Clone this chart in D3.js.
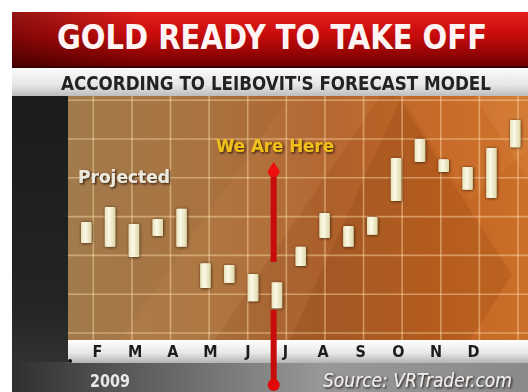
<!DOCTYPE html>
<html><head><meta charset="utf-8">
<script src="https://cdn.jsdelivr.net/npm/d3@7"></script>
<style>html,body{margin:0;padding:0;background:#fff;overflow:hidden}</style>
</head><body>
<svg id="c" width="528" height="392"></svg>
<script>
// ---- data ----
const title = "GOLD READY TO TAKE OFF";
const subtitle = "ACCORDING TO LEIBOVIT'S FORECAST MODEL";
const months = ["F","M","A","M","J","J","A","S","O","N","D"];
const periods = [1,2,3,4,5,6,7,8,9,10,11,12,13,14,15,16,17,18,19];
const barHigh = [28.6,32.5,28.1,29.4,32.0,18.0,17.5,15.2,13.1,22.2,30.9,27.6,29.9,45.1,50.0,44.8,42.8,47.7,54.9];
const barLow  = [23.2,22.2,19.6,25.0,22.2,11.6,12.9,8.2,6.4,17.3,24.5,22.2,25.3,34.0,44.1,41.5,36.9,34.8,47.9];
const currentPeriod = 9;
const yearLabel = "2009";
const sourceLabel = "Source: VRTrader.com";

const svg = d3.select("#c");
const defs = svg.append("defs");

function lg(id, x1,y1,x2,y2, stops){
  const g = defs.append("linearGradient").attr("id",id)
    .attr("x1",x1).attr("y1",y1).attr("x2",x2).attr("y2",y2);
  stops.forEach(s=>g.append("stop").attr("offset",s[0]).attr("stop-color",s[1]).attr("stop-opacity", s[2]==null?1:s[2]));
}
lg("red","0","0","0","1",[[0,"#e2201c"],[0.45,"#c40a0a"],[1,"#6e0000"]]);
lg("redH","0","0","1","0",[[0,"#000",0.35],[0.25,"#000",0],[1,"#000",0]]);
lg("sub","0","0","0","1",[[0,"#fbfbfb"],[0.6,"#e6e6e6"],[1,"#bdbdbd"]]);
lg("dark","0","0","0","1",[[0,"#1a1c1a"],[0.7,"#232523"],[1,"#363736"]]);
lg("orange","0","0","1","0",[[0,"#a27a4c"],[0.3,"#a9733f"],[0.55,"#b0632d"],[0.8,"#c66826"],[1,"#d2732a"]]);
lg("axisbar","0","0","0","1",[[0,"#ffffff"],[0.55,"#e8e8e8"],[1,"#b4b4b4"]]);
lg("bottom","0","0","1","0",[[0,"#2e2f2e"],[0.2,"#555"],[0.6,"#989898"],[1,"#8a8a8a"]]);
lg("candle","0","0","1","0",[[0,"#e8e2bc"],[0.4,"#fbf9e8"],[1,"#ded6a8"]]);

const sh = defs.append("filter").attr("id","shadow").attr("x","-50%").attr("y","-50%").attr("width","200%").attr("height","200%");
sh.append("feDropShadow").attr("dx",0.5).attr("dy",0.5).attr("stdDeviation",1.4).attr("flood-color","#2a1200").attr("flood-opacity",0.85);
const tsh = defs.append("filter").attr("id","tshadow").attr("x","-20%").attr("y","-40%").attr("width","140%").attr("height","180%");
tsh.append("feDropShadow").attr("dx",1.2).attr("dy",1.2).attr("stdDeviation",0.8).attr("flood-color","#1a0a00").attr("flood-opacity",0.9);
const soft = defs.append("filter").attr("id","soft");
soft.append("feGaussianBlur").attr("stdDeviation",0.4);

// ---- frame ----
svg.append("rect").attr("x",12).attr("y",12).attr("width",516).attr("height",55).attr("fill","url(#red)");
svg.append("rect").attr("x",12).attr("y",12).attr("width",516).attr("height",55).attr("fill","url(#redH)");
svg.append("rect").attr("x",12).attr("y",66).attr("width",516).attr("height",2).attr("fill","#3a0000");
svg.append("rect").attr("x",12).attr("y",68).attr("width",516).attr("height",28).attr("fill","url(#sub)");
svg.append("rect").attr("x",12).attr("y",96).attr("width",56).attr("height",296).attr("fill","url(#dark)");
svg.append("rect").attr("x",12).attr("y",362).attr("width",516).attr("height",30).attr("fill","url(#bottom)");

// chart area
const X0 = 68, X1 = 528, Y0 = 96, Y1 = 340;
defs.append("clipPath").attr("id","clip").append("rect").attr("x",X0).attr("y",Y0).attr("width",X1-X0).attr("height",Y1-Y0);
const chart = svg.append("g").attr("clip-path","url(#clip)");
chart.append("rect").attr("x",X0).attr("y",Y0).attr("width",X1-X0).attr("height",Y1-Y0).attr("fill","url(#orange)");
// decorative diagonal shapes
chart.append("path").attr("d","M120,340 L290,96 L380,96 L215,340 Z").attr("fill","#e0a060").attr("opacity",0.10);
chart.append("path").attr("d","M215,340 L380,96 L528,96 L528,340 Z").attr("fill","#7a3a10").attr("opacity",0.06);
chart.append("path").attr("d","M290,340 L400,100 L512,275 L470,340 Z").attr("fill","#6a2a00").attr("opacity",0.14);
chart.append("path").attr("d","M400,96 L528,96 L528,150 L470,200 Z").attr("fill","#f0a050").attr("opacity",0.12);
chart.append("path").attr("d","M475,96 L528,96 L528,180 Z").attr("fill","#f8b870").attr("opacity",0.12);

// scales
const y = d3.scaleLinear().domain([0,60]).range([333,100.2]);
const gridX = d3.scaleLinear().domain([0,11]).range([93.3,518]);
const x = d3.scaleLinear().domain([1,19]).range([86,515]);
const mx = d3.scaleLinear().domain([0,10]).range([97,473]);

// grid
chart.append("g").selectAll("line").data(y.ticks(6)).join("line")
  .attr("x1",X0).attr("x2",X1).attr("y1",d=>y(d)).attr("y2",d=>y(d))
  .attr("stroke","#ffe3b0").attr("stroke-opacity",0.45).attr("stroke-width",1.6);
chart.append("g").selectAll("line").data(gridX.ticks(11)).join("line")
  .attr("x1",d=>gridX(d)).attr("x2",d=>gridX(d)).attr("y1",Y0).attr("y2",Y1)
  .attr("stroke","#ffe3b0").attr("stroke-opacity",0.45).attr("stroke-width",1.6);

// red "we are here" line
const cx = x(currentPeriod) - 3;
const red = svg.append("g");
red.append("line").attr("x1",cx).attr("x2",cx).attr("y1",y(barLow[currentPeriod-1]) + 2).attr("y2",385)
  .attr("stroke","#c80c0c").attr("stroke-width",6);

// axis bar
svg.append("rect").attr("x",X0).attr("y",340).attr("width",X1-X0).attr("height",23).attr("fill","url(#axisbar)");
svg.append("circle").attr("cx",70).attr("cy",361).attr("r",2).attr("fill","#111");
red.raise();
red.append("circle").attr("cx",cx).attr("cy",385).attr("r",6).attr("fill","#e00808");
red.append("line").attr("x1",cx).attr("x2",cx).attr("y1",172).attr("y2",262)
  .attr("stroke","#c80c0c").attr("stroke-width",6);
red.append("path").attr("d",`M${cx},162 L${cx+6},171 A6,6 0 1 1 ${cx-6},171 Z`).attr("fill","#ee1010");

// candles
chart.append("g").selectAll("rect").data(periods).join("rect")
  .attr("x",d=>x(d)-5).attr("width",10.5)
  .attr("y",(d,i)=>y(barHigh[i])).attr("height",(d,i)=>y(barLow[i])-y(barHigh[i]))
  .attr("rx",1).attr("fill","url(#candle)").attr("filter","url(#shadow)");

// month axis
const axis = d3.axisBottom(mx).tickValues(d3.range(months.length)).tickFormat(i=>months[i]).tickSize(0).tickPadding(0);
const ag = svg.append("g").attr("transform","translate(0,345)").call(axis);
ag.select(".domain").remove();
ag.selectAll("text").attr("fill","#1e1e1e").attr("font-family","'DejaVu Sans Condensed','DejaVu Sans',sans-serif")
  .attr("font-weight","bold").attr("font-size",16).attr("dy","0.75em").attr("filter","url(#soft)");

// texts
svg.append("text").attr("x",272).attr("y",49).attr("text-anchor","middle")
  .attr("font-family","'DejaVu Sans Condensed','DejaVu Sans',sans-serif").attr("font-weight","bold").attr("font-size",34)
  .attr("textLength",430).attr("lengthAdjust","spacingAndGlyphs")
  .attr("fill","#fff4f4").text(title);
svg.append("text").attr("x",276).attr("y",90).attr("text-anchor","middle")
  .attr("font-family","'DejaVu Sans Condensed','DejaVu Sans',sans-serif").attr("font-weight","bold").attr("font-size",19)
  .attr("textLength",430).attr("lengthAdjust","spacingAndGlyphs")
  .attr("fill","#222").attr("filter","url(#soft)").text(subtitle);
svg.append("text").attr("x",216).attr("y",152)
  .attr("font-family","'DejaVu Sans Condensed','DejaVu Sans',sans-serif").attr("font-weight","bold").attr("font-size",17)
  .attr("textLength",118).attr("lengthAdjust","spacingAndGlyphs")
  .attr("fill","#f0bf1a").attr("filter","url(#tshadow)").text("We Are Here");
svg.append("text").attr("x",78).attr("y",183)
  .attr("font-family","'DejaVu Sans Condensed','DejaVu Sans',sans-serif").attr("font-weight","bold").attr("font-size",17)
  .attr("textLength",92).attr("lengthAdjust","spacingAndGlyphs")
  .attr("fill","#ece8dc").attr("filter","url(#tshadow)").text("Projected");
svg.append("text").attr("x",90).attr("y",387)
  .attr("font-family","'DejaVu Sans Condensed','DejaVu Sans',sans-serif").attr("font-weight","bold").attr("font-size",17)
  .attr("textLength",40).attr("lengthAdjust","spacingAndGlyphs")
  .attr("fill","#e8e8e8").attr("filter","url(#soft)").text(yearLabel);
svg.append("text").attr("x",323).attr("y",387)
  .attr("font-family","'DejaVu Sans Condensed','DejaVu Sans',sans-serif").attr("font-style","italic").attr("font-size",19)
  .attr("textLength",189).attr("lengthAdjust","spacingAndGlyphs")
  .attr("fill","#eeeeee").attr("filter","url(#tshadow)").text(sourceLabel);
</script>
</body></html>
